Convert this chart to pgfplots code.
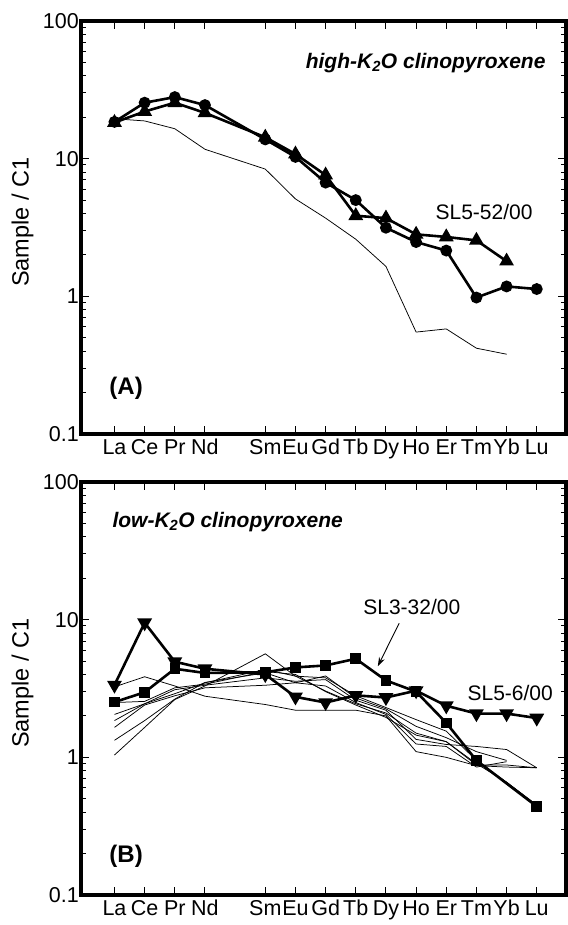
\documentclass[border=0pt]{standalone}
\usepackage{fontspec}
\setmainfont{Liberation Sans}
\usepackage{pgfplots}
\pgfplotsset{compat=1.18}
\usetikzlibrary{arrows.meta}
\pgfplotsset{
  reeplot/.style={
    width=485pt, height=413pt, scale only axis,
    ymin=0.1, ymax=100,
    xmin=-1.11, xmax=14.97,
    xtick={0,1,2,3,5,6,7,8,9,10,11,12,13,14},
    xticklabels={La,Ce,Pr,Nd,Sm,Eu,Gd,Tb,Dy,Ho,Er,Tm,Yb,Lu},
    ytick={0.1,1,10,100}, yticklabels={0.1,1,10,100},
    tick align=inside, tick pos=both,
    axis line style={line width=4pt},
    major tick length=8pt, minor tick length=5pt,
    every tick/.style={black, line width=1pt},
    tick label style={font=\fontsize{21.5}{25}\selectfont},
    yticklabel style={inner sep=2pt},
    xticklabel style={inner sep=2pt, yshift=-3pt},
    ylabel={Sample / C1},
    ylabel style={font=\fontsize{23.5}{28}\selectfont, at={(axis description cs:-0.1206,0.513)}, anchor=center},
    clip=false,
  },
}
\tikzset{
  mythick/.style={black, line width=2.6pt},
  mythin/.style={black, line width=0.75pt},
  mycirc/.style={mythick, mark=*, mark size=4.6pt},
  mytri/.style={mythick, mark=triangle*, mark size=6pt},
  myitri/.style={mythick, mark=triangle*, mark options={rotate=180}, mark size=6pt},
  mysq/.style={mythick, mark=square*, mark size=4pt},
}
\begin{document}
\begin{tikzpicture}
\useasboundingbox (-81pt,21pt) rectangle (486pt,-904pt);
% ---------------- Panel A
\begin{axis}[ymode=log, reeplot, at={(0pt,0pt)}, anchor=north west]
\addplot[mythin, no markers] coordinates {(0,19.5) (1,18.8) (2,16.5) (3,11.7) (5,8.4) (6,5.1) (7,3.7) (8,2.6) (9,1.65) (10,0.55) (11,0.58) (12,0.42) (13,0.38)};
\addplot[mycirc] coordinates {(0,18.5) (1,25.5) (2,28) (3,24.5) (5,13.8) (6,10.3) (7,6.7) (8,5.0) (9,3.15) (10,2.48) (11,2.15) (12,0.98) (13,1.18) (14,1.13)};
\addplot[mytri] coordinates {(0,18.3) (1,22) (2,25.5) (3,21.5) (5,14.3) (6,10.8) (7,7.6) (8,3.85) (9,3.7) (10,2.82) (11,2.7) (12,2.55) (13,1.8)};
\node[anchor=east, font=\fontsize{21}{25}\selectfont\bfseries\itshape] at (axis description cs:0.965,0.898) {high-K\textsubscript{2}O clinopyroxene};
\node[font=\fontsize{21}{25}\selectfont] at (axis description cs:0.831,0.5375) {SL5-52/00};
\node[font=\fontsize{24}{28}\selectfont\bfseries] at (axis description cs:0.093,0.11) {(A)};
\end{axis}
% ---------------- Panel B
\begin{axis}[ymode=log, reeplot, at={(0pt,-461pt)}, anchor=north west]
\addplot[mythin, no markers] coordinates {(0,3.25) (1,3.85) (2,3.3) (3,2.78) (5,2.42) (6,2.2) (7,2.2) (8,2.2) (9,2.0) (10,1.1) (11,1.0) (12,0.87) (13,0.85) (14,0.84)};
\addplot[mythin, no markers] coordinates {(0,1.04) (1,1.65) (2,2.63) (3,3.3) (5,5.65) (6,3.89) (7,3.03) (8,2.45) (9,2.1) (10,1.5) (11,1.3) (12,0.9) (13,0.66) (14,0.45)};
\addplot[mythin, no markers] coordinates {(0,2.05) (1,2.45) (2,2.9) (3,3.48) (5,4.35) (6,3.89) (7,3.78) (8,2.8) (9,2.3) (10,1.88) (11,1.55) (12,0.95) (13,0.66) (14,0.45)};
\addplot[mythin, no markers] coordinates {(0,1.85) (1,2.45) (2,3.1) (3,3.34) (5,3.78) (6,3.57) (7,3.67) (8,2.6) (9,2.2) (10,1.35) (11,1.24) (12,1.2) (13,1.14) (14,0.84)};
\addplot[mythin, no markers] coordinates {(0,1.65) (1,2.4) (2,2.8) (3,3.2) (5,3.34) (6,3.48) (7,3.9) (8,2.7) (9,2.25) (10,1.68) (11,1.39) (12,1.1) (13,0.95)};
\addplot[mythin, no markers] coordinates {(0,1.33) (1,1.85) (2,2.65) (3,3.5) (5,4.11) (6,3.48) (7,3.3) (8,2.5) (9,2.05) (10,1.25) (11,1.2) (12,0.85) (13,0.93)};
\addplot[mythin, no markers] coordinates {(0,2.5) (1,2.55) (2,3.2) (3,3.4) (5,4.2) (6,4.0) (7,3.0) (8,2.4) (9,1.95) (10,1.45) (11,1.3) (12,0.88) (13,0.88) (14,0.84)};
\addplot[mysq] coordinates {(0,2.52) (1,2.97) (2,4.4) (3,4.1) (5,4.15) (6,4.5) (7,4.65) (8,5.2) (9,3.62) (10,3.0) (11,1.78) (12,0.95) (14,0.44)};
\addplot[myitri] coordinates {(0,3.35) (1,9.5) (2,4.95) (3,4.4) (5,4.0) (6,2.75) (7,2.5) (8,2.82) (9,2.72) (10,3.05) (11,2.37) (12,2.08) (13,2.08) (14,1.93)};
\node[anchor=west, font=\fontsize{21}{25}\selectfont\bfseries\itshape] at (axis description cs:0.0577,0.904) {low-K\textsubscript{2}O clinopyroxene};
\node[font=\fontsize{21}{25}\selectfont] at (axis description cs:0.682,0.698) {SL3-32/00};
\draw[-{Stealth[length=9pt,width=6pt]}, line width=0.9pt] (axis description cs:0.656,0.658) -- (axis description cs:0.612,0.554);
\node[font=\fontsize{21}{25}\selectfont] at (axis description cs:0.885,0.488) {SL5-6/00};
\node[font=\fontsize{24}{28}\selectfont\bfseries] at (axis description cs:0.093,0.093) {(B)};
\end{axis}
\end{tikzpicture}
\end{document}
